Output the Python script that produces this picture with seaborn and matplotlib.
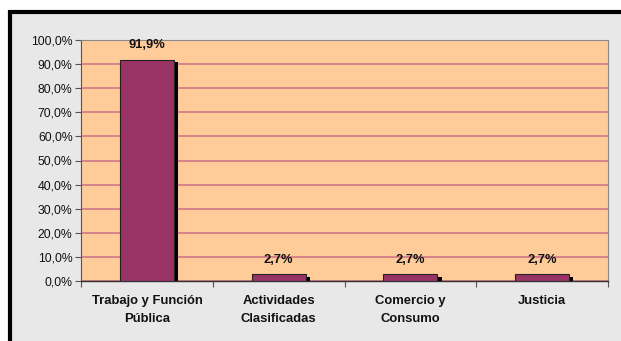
import matplotlib
matplotlib.use("Agg")
import matplotlib.pyplot as plt
import matplotlib.patheffects as pe
from matplotlib.patches import Rectangle
from matplotlib.ticker import FixedLocator
import seaborn as sns
import pandas as pd

categories = ["Trabajo y Función\nPública", "Actividades\nClasificadas", "Comercio y\nConsumo", "Justicia"]
values = [91.9, 2.7, 2.7, 2.7]
labels = ["91,9%", "2,7%", "2,7%", "2,7%"]
yticks = [0, 10, 20, 30, 40, 50, 60, 70, 80, 90, 100]
ytick_labels = ["0,0%", "10,0%", "20,0%", "30,0%", "40,0%", "50,0%", "60,0%", "70,0%", "80,0%", "90,0%", "100,0%"]

sns.set_style("white")
plt.rcParams['font.family'] = ['Liberation Sans', 'DejaVu Sans']

df = pd.DataFrame({"cat": categories, "val": values})

fig = plt.figure(figsize=(6.21, 3.41), dpi=100)
fig.patch.set_facecolor("white")

# gray background panel with black frame (top/left)
bg = Rectangle((10/621, -0.05), 1.1, 1 - 12/341 + 0.05, transform=fig.transFigure,
               facecolor="#e8e8e8", edgecolor="black", linewidth=3, zorder=-10)
fig.patches.append(bg)

ax = fig.add_axes([81/621, 1 - 281/341, (608 - 81)/621, (281 - 40)/341])
ax.set_zorder(1)
ax.set_facecolor("#FFCC99")

sns.barplot(data=df, x="cat", y="val", ax=ax, color="#993366", width=0.41,
            edgecolor="#222222", linewidth=0.8, saturation=1, zorder=3)
for p in ax.patches:
    p.set_path_effects([pe.SimplePatchShadow(offset=(3, -2), shadow_rgbFace="black", alpha=1), pe.Normal()])

ax.set_ylim(0, 100)
ax.set_xlim(-0.5, 3.5)
ax.yaxis.set_major_locator(FixedLocator(yticks))
ax.set_yticklabels(ytick_labels, fontsize=8.8, color="#111111")
ax.grid(axis="y", color="#CC7088", linewidth=1.1, zorder=1)
ax.set_axisbelow(True)

for i, (v, lab) in enumerate(zip(values, labels)):
    ax.annotate(lab, (i, v), xytext=(0, 6), textcoords="offset points",
                ha="center", va="bottom", fontsize=9.3, fontweight="bold", color="#111111")

ax.set_xlabel("")
ax.set_ylabel("")
ax.set_xticks([0, 1, 2, 3])
ax.set_xticklabels(categories, fontsize=9.4, fontweight="bold", linespacing=1.65, color="#111111")
ax.tick_params(axis="x", length=0, pad=10)
ax.tick_params(axis="y", length=4, width=0.8, color="#555555", direction="out", left=True, pad=2)
ax.set_xticks([-0.5, 0.5, 1.5, 2.5, 3.5], minor=True)
ax.tick_params(axis="x", which="minor", length=4, width=0.8, color="#555555", direction="out", bottom=True)

for s in ["top", "right"]:
    ax.spines[s].set_color("#888888")
    ax.spines[s].set_linewidth(0.8)
ax.spines["left"].set_color("#555555")
ax.spines["bottom"].set_color("#333333")
ax.spines["left"].set_linewidth(0.8)
ax.spines["bottom"].set_linewidth(1.0)

fig.savefig("out.png", dpi=100)
